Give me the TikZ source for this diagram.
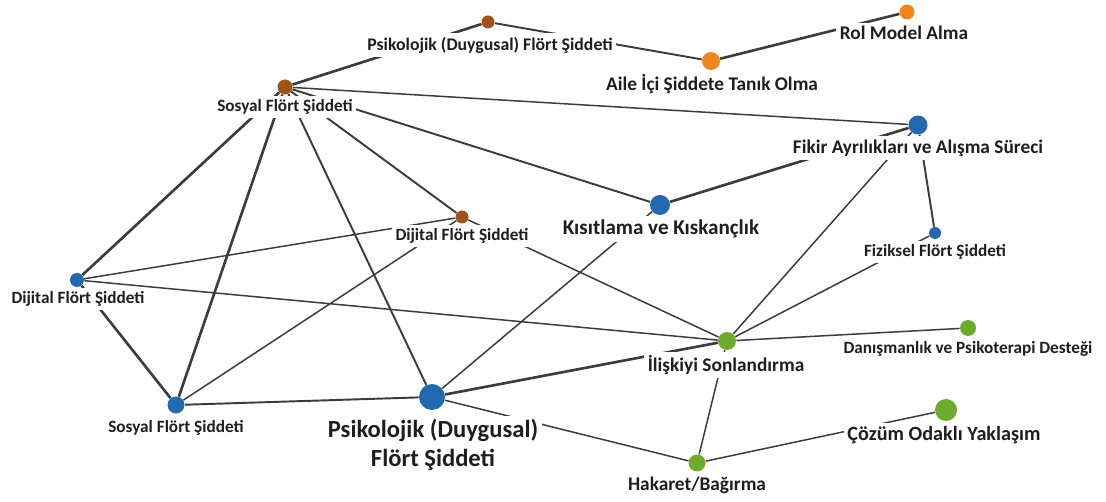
\documentclass[tikz,border=0pt]{standalone}
\usepackage{fontspec}
\setmainfont{Carlito}
\usetikzlibrary{backgrounds}

\definecolor{vbrown}{RGB}{160,82,28}
\definecolor{vorange}{RGB}{240,135,30}
\definecolor{vblue}{RGB}{35,105,175}
\definecolor{vgreen}{RGB}{110,170,45}
\definecolor{linkgray}{RGB}{60,60,60}
\definecolor{textgray}{RGB}{30,30,30}

\tikzset{
  vdot/.style={circle, inner sep=0pt, minimum size=#1*0.4mm},
  lbl/.style={fill=white, inner sep=2pt, text=textgray, align=center},
  lblS/.style={lbl, font=\bfseries\fontsize{9.8}{11}\selectfont},
  lblM/.style={lbl, font=\bfseries\fontsize{11}{13}\selectfont},
  lblK/.style={lbl, font=\bfseries\fontsize{12}{14}\selectfont},
  lblL/.style={lbl, font=\bfseries\fontsize{14}{16.5}\selectfont},
  thinlink/.style={draw=linkgray, line width=0.85pt},
  midlink/.style={draw=linkgray, line width=1.1pt},
  boldlink/.style={draw=linkgray, line width=1.5pt},
}

\begin{document}
\begin{tikzpicture}[x=0.02cm, y=-0.02cm]
  \useasboundingbox (0,0) rectangle (1106,502);

  % clusters: brown, orange, blue, green
  \node[vdot=6.5, fill=vbrown] (psikB) at (488,22) {};
  \node[vdot=7.5, fill=vbrown] (sosyB) at (285,87) {};
  \node[vdot=6.5, fill=vbrown] (dijiB) at (462,217) {};
  \node[vdot=9, fill=vorange] (aile) at (711,61) {};
  \node[vdot=7.5, fill=vorange] (rolmodel) at (907,12) {};
  \node[vdot=9.5, fill=vblue] (fikir) at (918,125) {};
  \node[vdot=10, fill=vblue] (kisit) at (660,205) {};
  \node[vdot=6, fill=vblue] (fizik) at (935,233) {};
  \node[vdot=7, fill=vblue] (dijiA) at (77,280) {};
  \node[vdot=8.5, fill=vblue] (sosyA) at (176,405) {};
  \node[vdot=13, fill=vblue] (psikA) at (432,397) {};
  \node[vdot=9, fill=vgreen] (iliski) at (727,341) {};
  \node[vdot=8, fill=vgreen] (danis) at (968,328) {};
  \node[vdot=8.5, fill=vgreen] (hakaret) at (697,463) {};
  \node[vdot=11, fill=vgreen] (cozum) at (946,410) {};

  \node[lblS, font=\bfseries\fontsize{10.1}{11}\selectfont] (psikBL) at (490,45) {Psikolojik (Duygusal) Flört Şiddeti};
  \node[lblS] (sosyBL) at (285,107) {Sosyal Flört Şiddeti};
  \node[lblS] (dijiBL) at (462,236) {Dijital Flört Şiddeti};
  \node[lblM] (aileL) at (712,84) {Aile İçi Şiddete Tanık Olma};
  \node[lblM] (rolmodelL) at (904,33) {Rol Model Alma};
  \node[lblM] (fikirL) at (918,148) {Fikir Ayrılıkları ve Alışma Süreci};
  \node[lblK] (kisitL) at (661,229) {Kısıtlama ve Kıskançlık};
  \node[lblS] (fizikL) at (935,252) {Fiziksel Flört Şiddeti};
  \node[lblS] (dijiAL) at (78,299) {Dijital Flört Şiddeti};
  \node[lblS] (sosyAL) at (176,428) {Sosyal Flört Şiddeti};
  \node[lblL] (psikAL) at (433,445) {Psikolojik (Duygusal)\\Flört Şiddeti};
  \node[lblM] (iliskiL) at (726,365) {İlişkiyi Sonlandırma};
  \node[lblS] (danisL) at (968,349) {Danışmanlık ve Psikoterapi Desteği};
  \node[lblM] (hakaretL) at (697,485) {Hakaret/Bağırma};
  \node[lblK, font=\bfseries\fontsize{11.5}{13}\selectfont] (cozumL) at (944,435) {Çözüm Odaklı Yaklaşım};

  \begin{pgfonlayer}{background}
    \draw[boldlink] (sosyB) -- (psikB)
      (aile) -- (rolmodel)
      (sosyB) -- (sosyA)
      (sosyB) -- (dijiA)
      (fikir) -- (kisit)
      (dijiA) -- (sosyA)
      (psikA) -- (iliski);
    \draw[midlink] (psikB) -- (aile)
      (sosyB) -- (kisit)
      (sosyB) -- (dijiB)
      (sosyB) -- (psikA)
      (fikir) -- (fizik)
      (sosyA) -- (psikA);
    \draw[thinlink] (sosyB) -- (fikir)
      (fikir) -- (iliski)
      (fizik) -- (iliski)
      (kisit) -- (psikA)
      (dijiB) -- (dijiA)
      (dijiB) -- (sosyA)
      (dijiB) -- (iliski)
      (dijiA) -- (iliski)
      (psikA) -- (hakaret)
      (iliski) -- (danis)
      (iliski) -- (hakaret)
      (hakaret) -- (cozum);
  \end{pgfonlayer}
\end{tikzpicture}
\end{document}
